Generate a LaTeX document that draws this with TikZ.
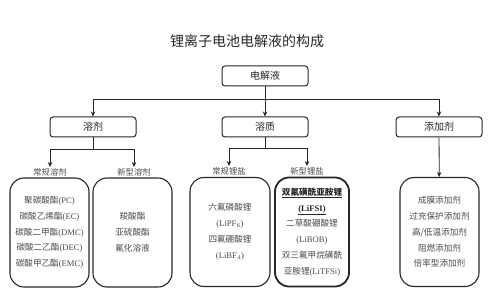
\documentclass[tikz,border=0pt]{standalone}
\usepackage{fontspec}
\setmainfont{Noto Sans CJK SC}
\newfontfamily\en{Liberation Serif}
\usetikzlibrary{arrows.meta, positioning, calc}
\definecolor{ink}{HTML}{262626}
\definecolor{muted}{HTML}{4A4A4A}
\tikzset{
  >={Stealth[length=5pt, width=4.5pt]},
  %
  title/.style={text=ink, inner sep=0pt, font=\fontsize{14}{16}\selectfont},
  head/.style={draw=ink, line width=1pt, rounded corners=3pt, fill=white,
               minimum width=86pt, minimum height=20pt, inner sep=0pt,
               text=ink, font=\fontsize{10}{12}\selectfont},
  leaf/.style={draw=ink, line width=1.1pt, rounded corners=14pt,
               minimum height=109pt, inner sep=0pt, align=center,
               text=muted, font=\fontsize{8.6}{15.8}\selectfont},
  leafkey/.style={leaf, line width=1.8pt},
  kind/.style={text=muted, inner sep=1pt, font=\fontsize{8.3}{10}\selectfont},
  %
  link/.style={draw=ink, line width=0.8pt},
  flow/.style={link, ->},
}

\begin{document}
\begin{tikzpicture}[x=1pt, y=-1pt]
  \useasboundingbox (0,0) rectangle (500,307);

  % title and root
  \node[title] (title) at (247,41) {锂离子电池电解液的构成};
  \node[head] (root) at (265,76) {电解液};

  % the three parts
  \foreach \n/\x/\t in {solvent/93/溶剂, solute/265/溶质, additive/439/添加剂} {
    \node[head] (\n) at (\x,127) {\t};
  }
  \coordinate (split) at (265,99);
  \draw[link] (root) -- (split);
  \draw[flow] (split) -| (solvent);
  \draw[flow] (split) -- (solute);
  \draw[flow] (split) -| (additive);

  % solvents
  \node[kind] (solvA) at (50,172) {常规溶剂};
  \node[kind] (solvB) at (134,172) {新型溶剂};
  \coordinate (solvsplit) at (93,149);
  \draw[link] (solvent) -- (solvsplit);
  \draw[flow] (solvsplit) -| (solvA);
  \draw[flow] (solvsplit) -| (solvB);

  \node[leaf, minimum width=79pt] (solvAleaf) at (49.5,232.5)
    {聚碳酸酯{\en (PC)}\\碳酸乙烯酯{\en (EC)}\\碳酸二甲酯{\en (DMC)}\\
     碳酸二乙酯{\en (DEC)}\\碳酸甲乙酯{\en (EMC)}};
  \node[leaf, minimum width=79pt] (solvBleaf) at (132.5,232.5)
    {羧酸酯\\亚硫酸酯\\氟化溶液};

  % lithium salts
  \node[kind] (saltA) at (229,171) {常规锂盐};
  \node[kind] (saltB) at (307,171) {新型锂盐};
  \coordinate (saltsplit) at (265,148);
  \draw[link] (solute) -- (saltsplit);
  \draw[flow] (saltsplit) -| (saltA);
  \draw[flow] (saltsplit) -| (saltB);

  \node[leaf, minimum width=80pt] (saltAleaf) at (230,232)
    {六氟磷酸锂\\{\en (LiPF$_6$)}\\四氟硼酸锂\\{\en (LiBF$_4$)}};
  \node[leafkey, minimum width=74pt] (saltBleaf) at (312,232)
    {\textcolor{ink}{\underline{\textbf{双氟磺酰亚胺锂}}}\\
     \textcolor{ink}{\underline{\textbf{\en (LiFSI)}}}\\
     二草酸硼酸锂\\{\en (LiBOB)}\\双三氟甲烷磺酰\\亚胺锂{\en (LiTFSi)}};

  % additives
  \node[leaf, minimum width=79pt] (addleaf) at (439.5,232)
    {成膜添加剂\\过充保护添加剂\\高/低温添加剂\\阻燃添加剂\\倍率型添加剂};
  \draw[flow] (additive) -- (addleaf);

\end{tikzpicture}
\end{document}
